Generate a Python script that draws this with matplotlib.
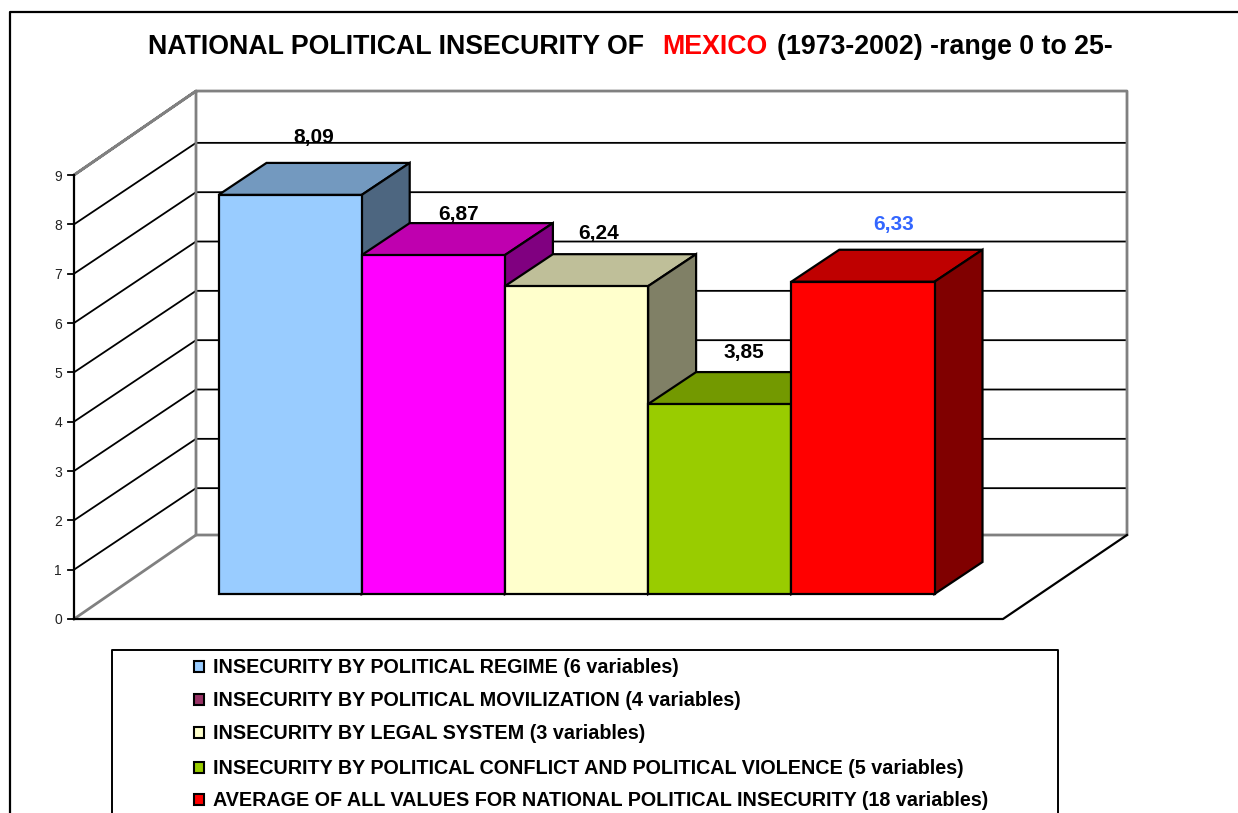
import matplotlib
matplotlib.use('Agg')
import matplotlib.pyplot as plt
from matplotlib.transforms import Affine2D
from matplotlib.patches import Rectangle

# Chart data
values = [8.09, 6.87, 6.24, 3.85, 6.33]
value_labels = ['8,09', '6,87', '6,24', '3,85', '6,33']
tick_values = [0, 1, 2, 3, 4, 5, 6, 7, 8, 9]
legend_labels = [
    'INSECURITY BY POLITICAL REGIME (6 variables)',
    'INSECURITY BY POLITICAL MOVILIZATION (4 variables)',
    'INSECURITY BY LEGAL SYSTEM (3 variables)',
    'INSECURITY BY POLITICAL CONFLICT AND POLITICAL VIOLENCE (5 variables)',
    'AVERAGE OF ALL VALUES FOR NATIONAL POLITICAL INSECURITY (18 variables)',
]

# Styles
bar_colors = ['#99CCFF', '#FF00FF', '#FFFFCC', '#99CC00', '#FF0000']
top_colors = ['#7399BF', '#BF00AF', '#BFBF99', '#739900', '#BF0000']
side_colors = ['#4D6680', '#800080', '#808066', '#4D6600', '#800000']
legend_colors = ['#99CCFF', '#993366', '#FFFFCC', '#99CC00', '#FF0000']
label_colors = ['black', 'black', 'black', 'black', '#3366FF']
label_shift = [(0, 25), (1, 9), (-2, 21), (0, 20), (7, 25)]  # px, from middle of bar top back edge
legend_rows = [667, 700, 733, 768, 800]

W, H = 1238, 813
BAND = 143.2    # px per category
UNIT = 49.33    # px per value unit
X0, Y0 = 218.5, 594  # pixel of first bar's left edge and of its base
FONT = 'Liberation Sans'

fig = plt.figure(figsize=(W / 100, H / 100), dpi=100, facecolor='white')
ax = fig.add_axes([0, 0, 1, 1])
ax.set_xlim(-X0 / BAND, (W - X0) / BAND)
ax.set_ylim((Y0 - H) / UNIT, Y0 / UNIT)
ax.axis('off')

# Pixel transform for the frame, the title and the legend box
px = Affine2D().scale(1 / W, -1 / H).translate(0, 1) + fig.transFigure


def dx(p):
    return p / BAND


def dy(p):
    return p / UNIT


# Walls and floor
front_x = dx(74 - X0)
back_x = dx(196 - X0)
front_right = dx(1003 - X0)
back_right = dx(1127 - X0)
y_front = -dy(25)
rise = dy(84)
grid_rise = dy(81.5)

for v in tick_values[1:-1]:
    yf = v + y_front
    ax.plot([front_x, back_x, back_right], [yf, yf + grid_rise, yf + grid_rise],
            color='black', lw=1.3, zorder=1, solid_capstyle='butt')

GRAY = '#808080'
top = tick_values[-1] + y_front
ax.plot([front_x, back_x, back_right, back_right, back_x, back_x, front_x],
        [top, top + rise, top + rise, y_front + rise, y_front + rise, top + rise, top],
        color=GRAY, lw=2, zorder=1.5)
ax.plot([front_x, back_x], [y_front, y_front + rise], color=GRAY, lw=2, zorder=1.5)
ax.plot([front_x, front_x], [y_front, top], color='black', lw=1.6, zorder=2)
ax.plot([front_x, front_right, back_right], [y_front, y_front, y_front + rise],
        color='black', lw=1.6, zorder=2)

# Tick marks and labels
for v in tick_values:
    yv = v + y_front
    ax.plot([front_x - dx(6), front_x], [yv, yv], color='black', lw=1.3, zorder=2)
    ax.text(front_x - dx(12), yv, str(v), ha='right', va='center_baseline',
            fontsize=10, color='#222222', family=FONT)

# Bars, left to right so the later ones cover the earlier side faces
depth_x, depth_y = dx(48), dy(32)
for i, v in enumerate(values):
    z = 3 + i
    ax.bar(i, v, width=1, align='edge', color=bar_colors[i], edgecolor='black',
           linewidth=1.6, zorder=z + 0.5)
    ax.fill([i, i + depth_x, i + 1 + depth_x, i + 1],
            [v, v + depth_y, v + depth_y, v],
            facecolor=top_colors[i], edgecolor='black', lw=1.6, zorder=z)
    ax.fill([i + 1, i + 1 + depth_x, i + 1 + depth_x, i + 1],
            [0, depth_y, v + depth_y, v],
            facecolor=side_colors[i], edgecolor='black', lw=1.6, zorder=z)
    sx, sy = label_shift[i]
    ax.text(i + 0.5 + depth_x / 2 + dx(sx), v + depth_y + dy(sy), value_labels[i],
            ha='center', va='center', fontsize=15, fontweight='bold',
            color=label_colors[i], family=FONT, zorder=20)

# Outer frame
fig.add_artist(plt.Line2D([10, 10, W], [H, 12, 12], color='black', lw=1.6, transform=px))

# Title in three pieces because of the red country name
title_kw = dict(fontsize=19.25, fontweight='bold', va='center', family=FONT, transform=px)
fig.text(148, 47, 'NATIONAL POLITICAL INSECURITY OF', color='black', **title_kw)
fig.text(662, 47, 'MEXICO', color='#FF0000', **title_kw)
fig.text(777, 47, '(1973-2002) -range 0 to 25-', color='black', **title_kw)

# Legend box
fig.add_artist(plt.Line2D([112, 112, 1058, 1058], [H, 650, 650, H], color='black', lw=1.4, transform=px))
for row, label, c in zip(legend_rows, legend_labels, legend_colors):
    fig.add_artist(Rectangle((193.5, row - 6), 10.5, 10.5, facecolor=c, edgecolor='black', lw=1.5, transform=px))
    fig.text(213, row, label, fontsize=14.2, fontweight='bold', va='center', family=FONT, transform=px)

fig.savefig('out.png', dpi=100)
